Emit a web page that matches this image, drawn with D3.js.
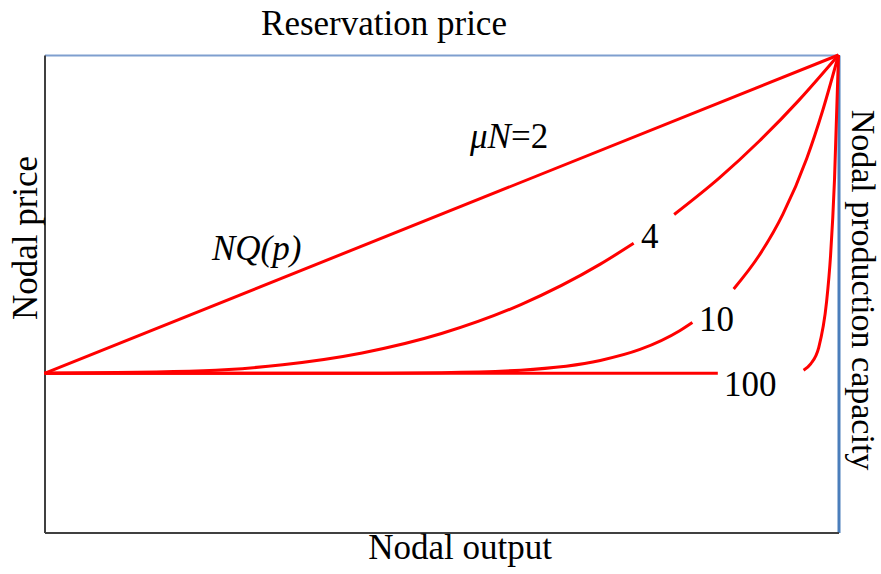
<!DOCTYPE html>
<html>
<head>
<meta charset="utf-8">
<script src="https://cdn.jsdelivr.net/npm/d3@7"></script>
<style>
  body { margin: 0; background: #ffffff; }
  svg { display: block; }
</style>
</head>
<body>
<div id="chart"></div>
<script>
// curves of nodal price vs nodal output, one per muN value
// each curve is a list of segments (gaps left where the labels sit)
const muN = [2, 4, 10, 100];

const curve2 = [
    [[0, 1], [1, 3]]
];

const curve4 = [
    [[0, 1], [0.2, 1.016], [0.3, 1.054], [0.4, 1.128], [0.5, 1.25], [0.6, 1.432], [0.7, 1.686], [0.742, 1.817]],
    [[0.793, 1.998], [0.85, 2.228], [0.9, 2.458], [0.95, 2.715], [1, 3]]
];

const curve10 = [
    [[0, 1], [0.4, 1.001], [0.5, 1.004], [0.6, 1.02], [0.7, 1.081], [0.75, 1.15], [0.8, 1.268], [0.816, 1.32]],
    [[0.868, 1.53], [0.9, 1.74], [0.93, 2.0], [0.96, 2.35], [0.98, 2.65], [1, 3]]
];

const curve100 = [
    [[0, 1], [0.848, 1]],
    [[0.956, 1.02], [0.965, 1.06], [0.975, 1.16], [0.985, 1.45], [0.99, 1.74], [0.995, 2.22], [1, 3]]
];

const curves = [curve2, curve4, curve10, curve100];

const W = 881, H = 574;
const font = "'Liberation Serif', 'Times New Roman', serif";
const fs = "35px";

svg = d3.select('#chart')
    .append('svg')
    .attr("width", W)
    .attr("height", H);

x = d3.scaleLinear().domain([0, 1]).range([44.5, 838.5]);
y = d3.scaleLinear().domain([0, 3]).range([532.5, 55]);

// frame: left & bottom dark, top & right blue
svg.append("g")
    .attr("transform", `translate(0,${y(3)})`)
    .call(d3.axisTop(x).ticks(0).tickSizeOuter(0))
    .select(".domain")
    .attr("stroke", "#7f9fcf")
    .attr("stroke-width", 2);

svg.append("g")
    .attr("transform", `translate(${x(1)},0)`)
    .call(d3.axisRight(y).ticks(0).tickSizeOuter(0))
    .select(".domain")
    .attr("stroke", "#4a7ebb")
    .attr("stroke-width", 3);

svg.append("g")
    .attr("transform", `translate(${x(0)},0)`)
    .call(d3.axisLeft(y).ticks(0).tickSizeOuter(0))
    .select(".domain")
    .attr("stroke", "#404040")
    .attr("stroke-width", 2);

svg.append("g")
    .attr("transform", `translate(0,${y(0)})`)
    .call(d3.axisBottom(x).ticks(0).tickSizeOuter(0))
    .select(".domain")
    .attr("stroke", "#404040")
    .attr("stroke-width", 2);

// the curves
line = d3.line()
    .x(d => x(d[0]))
    .y(d => y(d[1]))
    .curve(d3.curveMonotoneX);

curves.forEach(c => {
    svg.append("g")
        .selectAll("path")
        .data(c)
        .join("path")
        .attr("d", line)
        .attr("fill", "none")
        .attr("stroke", "#ff0000")
        .attr("stroke-width", 3)
        .attr("stroke-linecap", "butt");
});

// axis titles
svg.append("text")
    .text("Reservation price")
    .attr("x", 384)
    .attr("y", 35)
    .attr("text-anchor", "middle")
    .style("font-family", font)
    .style("font-size", fs);

svg.append("text")
    .text("Nodal output")
    .attr("x", 460)
    .attr("y", 559)
    .attr("text-anchor", "middle")
    .style("font-family", font)
    .style("font-size", fs);

svg.append("text")
    .text("Nodal price")
    .attr("transform", "translate(37,238) rotate(-90)")
    .attr("text-anchor", "middle")
    .style("font-family", font)
    .style("font-size", fs);

svg.append("text")
    .text("Nodal production capacity")
    .attr("transform", "translate(852,290) rotate(90)")
    .attr("text-anchor", "middle")
    .style("font-family", font)
    .style("font-size", "34px");

// curve labels
lbl = svg.append("text")
    .attr("x", 470)
    .attr("y", 148)
    .style("font-family", font)
    .style("font-size", fs);
lbl.append("tspan").text("\u03bcN").style("font-style", "italic");
lbl.append("tspan").text("=" + muN[0]);

svg.append("text")
    .text("NQ(p)")
    .attr("x", 212)
    .attr("y", 260)
    .style("font-family", font)
    .style("font-size", fs)
    .style("font-style", "italic");

const labelPos = [null, [641, 248], [699, 331], [724, 396]];
muN.forEach((m, i) => {
    if (!labelPos[i]) return;
    svg.append("text")
        .text(m)
        .attr("x", labelPos[i][0])
        .attr("y", labelPos[i][1])
        .style("font-family", font)
        .style("font-size", fs);
});
</script>
</body>
</html>
